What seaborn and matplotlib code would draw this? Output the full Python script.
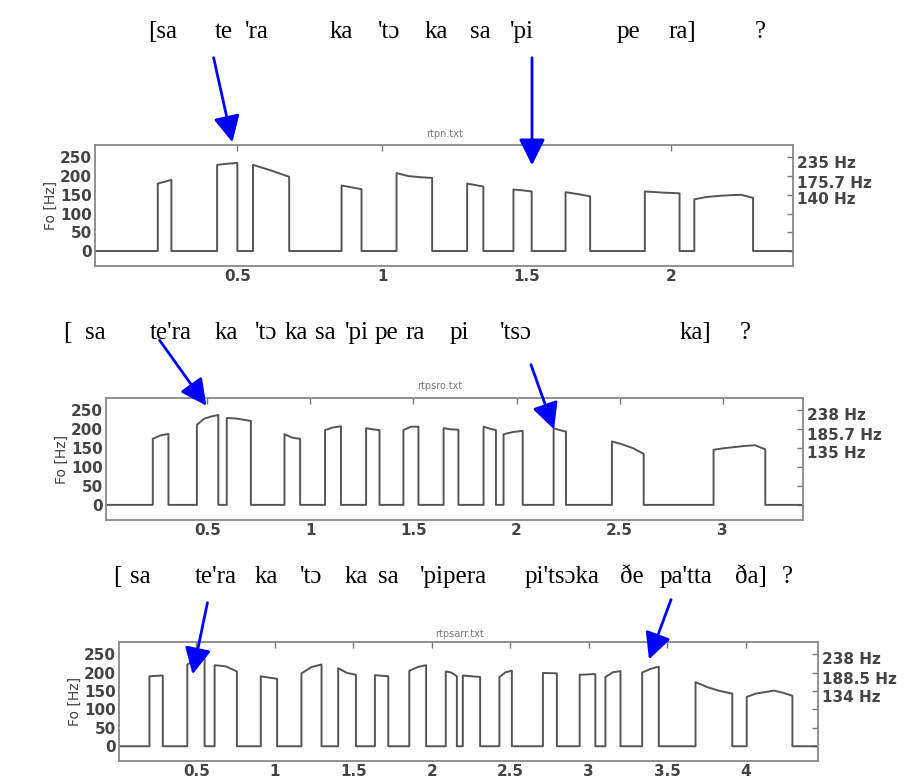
import numpy as np
import matplotlib.pyplot as plt
import seaborn as sns
from matplotlib.patches import FancyArrowPatch
from matplotlib.ticker import FormatStrFormatter

p1_on = [0.225, 0.43, 0.554, 0.86, 1.05, 1.294, 1.454, 1.634, 1.908, 2.079]
p1_off = [0.272, 0.50, 0.679, 0.929, 1.173, 1.35, 1.517, 1.719, 2.028, 2.282]
p1_f0 = [[180, 190], [230, 233, 235], [230, 215, 198], [175, 165],
         [208, 200, 197, 195], [180, 176, 172], [164, 162, 159],
         [157, 152, 146], [159, 156, 154], [138, 144, 147, 149, 150, 142]]

p2_on = [0.235, 0.449, 0.594, 0.874, 1.071, 1.27, 1.451, 1.646, 1.84, 1.937,
         2.18, 2.463, 2.956]
p2_off = [0.311, 0.553, 0.711, 0.95, 1.148, 1.335, 1.524, 1.718, 1.9, 2.03,
          2.24, 2.617, 3.207]
p2_f0 = [[175, 184, 188], [212, 228, 234, 238], [230, 229, 226, 222],
         [187, 178, 175], [198, 205, 208], [203, 200, 198], [198, 207, 207],
         [203, 200, 199], [207, 202, 198], [187, 193, 196], [203, 198, 194],
         [168, 160, 150, 135], [146, 150, 153, 156, 158, 147]]

p3_on = [0.202, 0.443, 0.617, 0.911, 1.17, 1.404, 1.638, 1.857, 2.089, 2.198,
         2.431, 2.708, 2.942, 3.106, 3.34, 3.68, 4.006]
p3_off = [0.287, 0.553, 0.759, 1.015, 1.298, 1.517, 1.723, 1.964, 2.16, 2.308,
          2.51, 2.797, 3.042, 3.202, 3.446, 3.914, 4.297]
p3_f0 = [[190, 192], [222, 235, 238], [220, 217, 203], [190, 183],
         [198, 215, 222], [212, 199, 194], [193, 190], [205, 215, 220],
         [203, 200, 190], [192, 188], [188, 201, 205], [199, 198], [194, 196],
         [188, 201, 204], [200, 210, 216], [174, 160, 150, 143],
         [134, 143, 147, 151, 145, 137]]

files = ["rtpn.txt", "rtpsro.txt", "rtpsarr.txt"]
hz_labels = [["235 Hz", "175.7 Hz", "140 Hz"],
             ["238 Hz", "185.7 Hz", "135 Hz"],
             ["238 Hz", "188.5 Hz", "134 Hz"]]
x_ticks = [[0.5, 1, 1.5, 2], [0.5, 1, 1.5, 2, 2.5, 3],
           [0.5, 1, 1.5, 2, 2.5, 3, 3.5, 4]]
x_max = [2.42, 3.39, 4.46]

ipa1 = ["[sa", "te", "'ra", "ka", "'tɔ", "ka", "sa", "'pi", "pe", "ra]", "?"]
ipa2 = ["[", "sa", "te'ra", "ka", "'tɔ", "ka", "sa", "'pi", "pe", "ra", "pi",
        "'tsɔ", "ka]", "?"]
ipa3 = ["[", "sa", "te'ra", "ka", "'tɔ", "ka", "sa", "'pipera", "pi'tsɔka",
        "ðe", "pa'tta", "ða]", "?"]

# layout (pixels from top-left of a 909x778 canvas)
W, H = 909, 778
ipa_x = [[148, 215, 245, 330, 378, 425, 470, 510, 617, 668, 755],
         [63, 85, 150, 215, 255, 285, 315, 345, 375, 405, 450, 500, 680, 740],
         [113, 130, 195, 255, 300, 345, 378, 420, 525, 620, 660, 735, 782]]
ipa_y = [32, 333, 577]
boxes = [(95, 145, 793, 266), (106, 398, 803, 520), (119, 642, 818, 761)]
hz_y = [[163, 183, 200], [415, 435, 453], [660, 680, 698]]
title_pos = [(445, 134), (440, 386), (460, 634)]
arrows = [((213, 55), (233, 145)), ((532, 55), (532, 168)),
          ((158, 338), (208, 408)), ((530, 362), (555, 432)),
          ((208, 600), (192, 677)), ((672, 597), (648, 662))]


def fx(px):
    return px / W


def fy(py):
    return 1 - py / H


def trace(on, off, f0, x0, x1):
    xs, ys = [x0], [0]
    for a, b, v in zip(on, off, f0):
        t = np.linspace(a, b, len(v))
        xs += [a] + list(t) + [b]
        ys += [0] + list(v) + [0]
    xs.append(x1)
    ys.append(0)
    return np.array(xs), np.array(ys)


sns.set_style("white")
plt.rcParams["font.family"] = ["DejaVu Sans"]

fig = plt.figure(figsize=(W / 100, H / 100), dpi=100)

panels = [(p1_on, p1_off, p1_f0), (p2_on, p2_off, p2_f0), (p3_on, p3_off, p3_f0)]
for i, (on, off, f0) in enumerate(panels):
    l, t, r, b = boxes[i]
    ax = fig.add_axes([fx(l), fy(b), (r - l) / W, (b - t) / H])
    xs, ys = trace(on, off, f0, 0.008, x_max[i])
    sns.lineplot(x=xs, y=ys, sort=False, estimator=None, ax=ax,
                 color="#555555", linewidth=1.4)
    ax.set_xlim(0.008, x_max[i])
    ax.set_ylim(-40, 283)
    ax.set_yticks([0, 50, 100, 150, 200, 250])
    ax.set_xticks(x_ticks[i])
    ax.xaxis.set_major_formatter(FormatStrFormatter("%g"))
    ax.tick_params(direction="in", length=4, width=1, color="#777777",
                   top=True, right=True, labelsize=11, labelcolor="#444444",
                   pad=2)
    for lab in ax.get_xticklabels() + ax.get_yticklabels():
        lab.set_fontweight("bold")
    for s in ax.spines.values():
        s.set_color("#888888")
        s.set_linewidth(1.3)
    ax.set_ylabel("Fo [Hz]", fontsize=10, color="#444444", labelpad=2)
    ax.grid(False)

    for lab, yy in zip(hz_labels[i], hz_y[i]):
        fig.text(fx(r + 4), fy(yy), lab, fontsize=11, fontweight="bold",
                 color="#444444", va="center", ha="left")
    fig.text(fx(title_pos[i][0]), fy(title_pos[i][1]), files[i], fontsize=7,
             color="#777777", ha="center", va="center")

# transcriptions
for toks, xs_, yy in zip([ipa1, ipa2, ipa3], ipa_x, ipa_y):
    for tok, xx in zip(toks, xs_):
        fig.text(fx(xx), fy(yy), tok, fontsize=18, color="black",
                 family=["Liberation Serif", "DejaVu Serif"],
                 ha="left", va="center")

# blue arrows
for (x0, y0), (x1, y1) in arrows:
    fig.add_artist(FancyArrowPatch((fx(x0), fy(y0)), (fx(x1), fy(y1)),
                                   transform=fig.transFigure,
                                   arrowstyle="-|>,head_length=0.8,head_width=0.4",
                                   mutation_scale=20, color="#0000ff", lw=2))

plt.savefig("out.png", dpi=100)
